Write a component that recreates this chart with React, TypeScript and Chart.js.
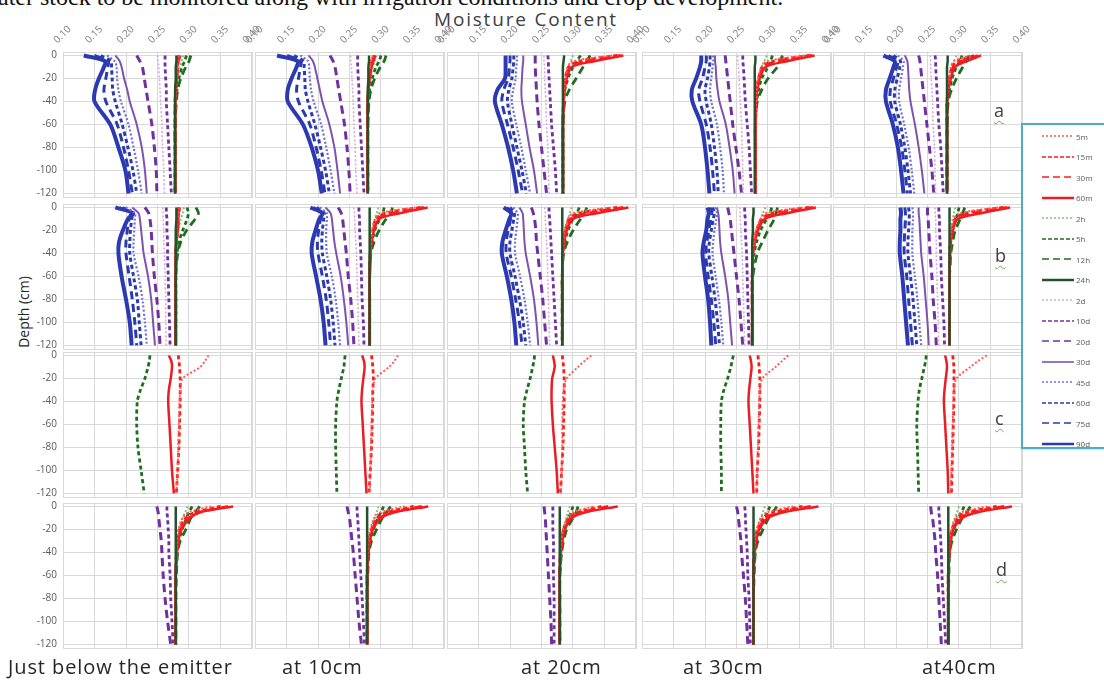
import React, { useEffect, useRef } from "react";
import { Chart, registerables } from "chart.js";
Chart.register(...registerables);

// ---------- data ----------
const DEPTHS = [0, -5, -10, -20, -30, -40, -60, -80, -100, -120];
const SERIES = ["5m", "15m", "30m", "60m", "2h", "5h", "12h", "24h", "2d", "10d", "20d", "30d", "45d", "60d", "75d", "90d"];
const X_TICKS = [0.1, 0.15, 0.2, 0.25, 0.3, 0.35, 0.4];
const Y_TICKS = [0, -20, -40, -60, -80, -100, -120];
const ROW_LABELS = ["a", "b", "c", "d"];
const COLUMN_LABELS = ["Just below the emitter", "at 10cm", "at 20cm", "at 30cm", "at40cm"];

// row a
const A1 = [
  [0.284, 0.282, 0.281, 0.280, 0.279, 0.279, 0.278, 0.278, 0.278, 0.278],
  [0.286, 0.283, 0.281, 0.280, 0.279, 0.278, 0.278, 0.278, 0.278, 0.278],
  [0.285, 0.283, 0.282, 0.281, 0.279, 0.278, 0.278, 0.278, 0.278, 0.278],
  [0.283, 0.282, 0.281, 0.281, 0.279, 0.278, 0.278, 0.278, 0.278, 0.278],
  [0.291, 0.288, 0.285, 0.282, 0.280, 0.279, 0.278, 0.278, 0.278, 0.278],
  [0.296, 0.293, 0.289, 0.284, 0.281, 0.279, 0.278, 0.278, 0.278, 0.278],
  [0.303, 0.300, 0.295, 0.287, 0.282, 0.280, 0.278, 0.278, 0.278, 0.278],
  [0.280, 0.280, 0.279, 0.279, 0.278, 0.278, 0.278, 0.278, 0.278, 0.278],
  [0.250, 0.251, 0.252, 0.253, 0.254, 0.255, 0.257, 0.258, 0.260, 0.261],
  [0.262, 0.262, 0.262, 0.263, 0.264, 0.264, 0.266, 0.268, 0.270, 0.272],
  [0.217, 0.222, 0.226, 0.229, 0.232, 0.235, 0.241, 0.245, 0.248, 0.249],
  [0.183, 0.190, 0.193, 0.197, 0.202, 0.206, 0.217, 0.225, 0.230, 0.233],
  [0.170, 0.182, 0.185, 0.186, 0.188, 0.192, 0.204, 0.212, 0.219, 0.225],
  [0.160, 0.176, 0.177, 0.178, 0.179, 0.183, 0.194, 0.203, 0.211, 0.217],
  [0.150, 0.172, 0.171, 0.168, 0.165, 0.168, 0.186, 0.196, 0.204, 0.210],
  [0.133, 0.167, 0.165, 0.157, 0.151, 0.150, 0.175, 0.188, 0.199, 0.204],
];
const A2 = [
  [0.287, 0.284, 0.282, 0.280, 0.279, 0.279, 0.279, 0.279, 0.279, 0.279],
  [0.289, 0.285, 0.283, 0.281, 0.280, 0.279, 0.279, 0.279, 0.279, 0.279],
  [0.290, 0.287, 0.284, 0.282, 0.280, 0.279, 0.279, 0.279, 0.279, 0.279],
  [0.291, 0.288, 0.285, 0.282, 0.280, 0.279, 0.279, 0.279, 0.279, 0.279],
  [0.293, 0.290, 0.287, 0.283, 0.280, 0.279, 0.279, 0.279, 0.279, 0.279],
  [0.300, 0.297, 0.292, 0.286, 0.282, 0.280, 0.279, 0.279, 0.279, 0.279],
  [0.308, 0.305, 0.299, 0.290, 0.284, 0.281, 0.279, 0.279, 0.279, 0.279],
  [0.281, 0.281, 0.280, 0.280, 0.279, 0.279, 0.279, 0.279, 0.279, 0.279],
  [0.252, 0.252, 0.253, 0.254, 0.255, 0.256, 0.257, 0.259, 0.260, 0.262],
  [0.263, 0.263, 0.263, 0.264, 0.265, 0.265, 0.267, 0.269, 0.271, 0.273],
  [0.219, 0.224, 0.227, 0.230, 0.233, 0.236, 0.242, 0.246, 0.249, 0.251],
  [0.185, 0.192, 0.195, 0.199, 0.203, 0.207, 0.218, 0.226, 0.231, 0.235],
  [0.172, 0.184, 0.186, 0.187, 0.189, 0.193, 0.205, 0.213, 0.220, 0.226],
  [0.162, 0.177, 0.178, 0.179, 0.180, 0.184, 0.195, 0.204, 0.212, 0.218],
  [0.151, 0.173, 0.172, 0.169, 0.166, 0.169, 0.187, 0.197, 0.205, 0.211],
  [0.135, 0.168, 0.166, 0.158, 0.152, 0.152, 0.176, 0.190, 0.200, 0.206],
];
const A3 = [
  [0.362, 0.300, 0.292, 0.288, 0.286, 0.285, 0.284, 0.284, 0.284, 0.284],
  [0.370, 0.310, 0.293, 0.288, 0.286, 0.285, 0.284, 0.284, 0.284, 0.284],
  [0.376, 0.322, 0.295, 0.289, 0.286, 0.285, 0.284, 0.284, 0.284, 0.284],
  [0.380, 0.334, 0.298, 0.290, 0.287, 0.285, 0.284, 0.284, 0.284, 0.284],
  [0.300, 0.296, 0.292, 0.288, 0.285, 0.284, 0.284, 0.284, 0.284, 0.284],
  [0.312, 0.306, 0.300, 0.292, 0.287, 0.285, 0.284, 0.284, 0.284, 0.284],
  [0.327, 0.322, 0.316, 0.305, 0.294, 0.287, 0.284, 0.284, 0.284, 0.284],
  [0.286, 0.285, 0.284, 0.284, 0.284, 0.284, 0.284, 0.284, 0.284, 0.284],
  [0.254, 0.254, 0.255, 0.255, 0.256, 0.257, 0.258, 0.260, 0.261, 0.262],
  [0.260, 0.261, 0.261, 0.262, 0.263, 0.264, 0.266, 0.269, 0.272, 0.274],
  [0.240, 0.240, 0.240, 0.241, 0.242, 0.243, 0.246, 0.250, 0.254, 0.258],
  [0.221, 0.221, 0.220, 0.219, 0.218, 0.219, 0.225, 0.231, 0.238, 0.243],
  [0.211, 0.211, 0.210, 0.209, 0.205, 0.203, 0.210, 0.218, 0.225, 0.232],
  [0.206, 0.206, 0.205, 0.203, 0.198, 0.196, 0.203, 0.211, 0.219, 0.226],
  [0.200, 0.200, 0.199, 0.197, 0.190, 0.187, 0.196, 0.205, 0.213, 0.220],
  [0.193, 0.193, 0.193, 0.192, 0.180, 0.176, 0.187, 0.197, 0.205, 0.211],
];
const A4 = [
  [0.358, 0.298, 0.290, 0.284, 0.282, 0.281, 0.280, 0.280, 0.280, 0.280],
  [0.366, 0.308, 0.291, 0.285, 0.282, 0.281, 0.280, 0.280, 0.280, 0.280],
  [0.370, 0.318, 0.293, 0.286, 0.283, 0.281, 0.280, 0.280, 0.280, 0.280],
  [0.374, 0.330, 0.296, 0.287, 0.283, 0.281, 0.280, 0.280, 0.280, 0.280],
  [0.298, 0.294, 0.290, 0.285, 0.282, 0.281, 0.280, 0.280, 0.280, 0.280],
  [0.307, 0.304, 0.300, 0.290, 0.285, 0.282, 0.280, 0.280, 0.280, 0.280],
  [0.323, 0.319, 0.315, 0.300, 0.290, 0.283, 0.280, 0.280, 0.280, 0.280],
  [0.280, 0.280, 0.279, 0.279, 0.279, 0.279, 0.279, 0.279, 0.279, 0.279],
  [0.252, 0.252, 0.253, 0.254, 0.255, 0.256, 0.258, 0.259, 0.260, 0.261],
  [0.260, 0.260, 0.261, 0.262, 0.263, 0.264, 0.267, 0.270, 0.272, 0.274],
  [0.232, 0.233, 0.234, 0.236, 0.238, 0.240, 0.244, 0.249, 0.254, 0.258],
  [0.216, 0.216, 0.217, 0.218, 0.220, 0.223, 0.233, 0.239, 0.244, 0.247],
  [0.213, 0.213, 0.212, 0.210, 0.208, 0.210, 0.219, 0.224, 0.228, 0.230],
  [0.208, 0.208, 0.207, 0.204, 0.200, 0.202, 0.210, 0.215, 0.219, 0.221],
  [0.202, 0.202, 0.200, 0.196, 0.190, 0.192, 0.202, 0.208, 0.212, 0.215],
  [0.194, 0.194, 0.192, 0.186, 0.179, 0.180, 0.194, 0.200, 0.204, 0.207],
];
const A5 = [
  [0.318, 0.292, 0.287, 0.284, 0.282, 0.281, 0.281, 0.281, 0.281, 0.281],
  [0.324, 0.298, 0.289, 0.285, 0.283, 0.281, 0.281, 0.281, 0.281, 0.281],
  [0.330, 0.305, 0.291, 0.286, 0.283, 0.281, 0.281, 0.281, 0.281, 0.281],
  [0.335, 0.312, 0.294, 0.287, 0.283, 0.281, 0.281, 0.281, 0.281, 0.281],
  [0.296, 0.292, 0.289, 0.285, 0.283, 0.281, 0.281, 0.281, 0.281, 0.281],
  [0.305, 0.301, 0.296, 0.289, 0.285, 0.282, 0.281, 0.281, 0.281, 0.281],
  [0.316, 0.312, 0.306, 0.296, 0.288, 0.283, 0.281, 0.281, 0.281, 0.281],
  [0.282, 0.282, 0.281, 0.281, 0.281, 0.281, 0.281, 0.281, 0.281, 0.281],
  [0.254, 0.255, 0.255, 0.256, 0.257, 0.258, 0.259, 0.261, 0.262, 0.263],
  [0.262, 0.263, 0.263, 0.264, 0.265, 0.266, 0.268, 0.271, 0.273, 0.275],
  [0.236, 0.238, 0.239, 0.241, 0.243, 0.245, 0.249, 0.253, 0.257, 0.260],
  [0.214, 0.218, 0.219, 0.220, 0.221, 0.223, 0.230, 0.236, 0.241, 0.245],
  [0.203, 0.212, 0.211, 0.208, 0.205, 0.205, 0.213, 0.220, 0.225, 0.229],
  [0.196, 0.207, 0.206, 0.202, 0.198, 0.198, 0.207, 0.214, 0.219, 0.223],
  [0.188, 0.203, 0.201, 0.196, 0.191, 0.191, 0.201, 0.209, 0.214, 0.218],
  [0.180, 0.198, 0.196, 0.190, 0.184, 0.184, 0.195, 0.203, 0.208, 0.212],
];

// row b
const B1 = [
  [0.284, 0.283, 0.282, 0.280, 0.279, 0.279, 0.279, 0.279, 0.279, 0.279],
  [0.285, 0.284, 0.282, 0.281, 0.280, 0.279, 0.279, 0.279, 0.279, 0.279],
  [0.284, 0.283, 0.283, 0.282, 0.280, 0.279, 0.279, 0.279, 0.279, 0.279],
  [0.283, 0.283, 0.283, 0.282, 0.280, 0.279, 0.279, 0.279, 0.279, 0.279],
  [0.292, 0.290, 0.287, 0.283, 0.281, 0.280, 0.279, 0.279, 0.279, 0.279],
  [0.297, 0.299, 0.297, 0.290, 0.284, 0.281, 0.279, 0.279, 0.279, 0.279],
  [0.311, 0.315, 0.310, 0.296, 0.287, 0.282, 0.279, 0.279, 0.279, 0.279],
  [0.280, 0.280, 0.280, 0.279, 0.279, 0.279, 0.279, 0.279, 0.279, 0.279],
  [0.258, 0.259, 0.259, 0.260, 0.260, 0.261, 0.262, 0.263, 0.263, 0.264],
  [0.264, 0.264, 0.265, 0.265, 0.266, 0.266, 0.267, 0.268, 0.269, 0.270],
  [0.230, 0.236, 0.238, 0.240, 0.241, 0.242, 0.245, 0.249, 0.252, 0.254],
  [0.210, 0.220, 0.222, 0.224, 0.226, 0.228, 0.235, 0.240, 0.243, 0.246],
  [0.200, 0.214, 0.214, 0.213, 0.212, 0.212, 0.220, 0.226, 0.230, 0.233],
  [0.195, 0.210, 0.209, 0.207, 0.206, 0.206, 0.212, 0.218, 0.221, 0.224],
  [0.190, 0.207, 0.205, 0.202, 0.200, 0.200, 0.205, 0.210, 0.214, 0.217],
  [0.183, 0.211, 0.203, 0.195, 0.189, 0.188, 0.193, 0.200, 0.206, 0.209],
];
const B2 = [
  [0.355, 0.298, 0.291, 0.286, 0.284, 0.283, 0.282, 0.282, 0.282, 0.282],
  [0.362, 0.306, 0.292, 0.287, 0.284, 0.283, 0.282, 0.282, 0.282, 0.282],
  [0.368, 0.318, 0.294, 0.288, 0.285, 0.283, 0.282, 0.282, 0.282, 0.282],
  [0.374, 0.330, 0.297, 0.289, 0.285, 0.283, 0.282, 0.282, 0.282, 0.282],
  [0.296, 0.293, 0.290, 0.286, 0.284, 0.283, 0.282, 0.282, 0.282, 0.282],
  [0.305, 0.303, 0.298, 0.290, 0.286, 0.283, 0.282, 0.282, 0.282, 0.282],
  [0.318, 0.316, 0.308, 0.297, 0.289, 0.284, 0.282, 0.282, 0.282, 0.282],
  [0.282, 0.282, 0.282, 0.282, 0.282, 0.282, 0.282, 0.282, 0.282, 0.282],
  [0.257, 0.258, 0.258, 0.259, 0.260, 0.261, 0.262, 0.263, 0.264, 0.265],
  [0.265, 0.265, 0.266, 0.266, 0.267, 0.268, 0.269, 0.270, 0.272, 0.273],
  [0.232, 0.237, 0.239, 0.241, 0.243, 0.245, 0.248, 0.252, 0.255, 0.257],
  [0.212, 0.220, 0.222, 0.224, 0.226, 0.229, 0.236, 0.241, 0.245, 0.248],
  [0.203, 0.214, 0.214, 0.213, 0.213, 0.214, 0.222, 0.228, 0.232, 0.235],
  [0.198, 0.210, 0.209, 0.207, 0.206, 0.207, 0.214, 0.220, 0.224, 0.227],
  [0.193, 0.206, 0.204, 0.201, 0.199, 0.200, 0.207, 0.213, 0.217, 0.220],
  [0.188, 0.207, 0.202, 0.196, 0.191, 0.190, 0.197, 0.204, 0.209, 0.212],
];
const B3 = [
  [0.360, 0.300, 0.292, 0.287, 0.285, 0.284, 0.283, 0.283, 0.283, 0.283],
  [0.370, 0.310, 0.294, 0.288, 0.285, 0.284, 0.283, 0.283, 0.283, 0.283],
  [0.380, 0.325, 0.296, 0.289, 0.286, 0.284, 0.283, 0.283, 0.283, 0.283],
  [0.388, 0.338, 0.300, 0.290, 0.286, 0.284, 0.283, 0.283, 0.283, 0.283],
  [0.298, 0.295, 0.292, 0.287, 0.285, 0.284, 0.283, 0.283, 0.283, 0.283],
  [0.310, 0.306, 0.300, 0.292, 0.287, 0.284, 0.283, 0.283, 0.283, 0.283],
  [0.322, 0.318, 0.312, 0.300, 0.291, 0.285, 0.283, 0.283, 0.283, 0.283],
  [0.283, 0.283, 0.283, 0.283, 0.283, 0.283, 0.283, 0.283, 0.283, 0.283],
  [0.255, 0.256, 0.256, 0.257, 0.258, 0.259, 0.260, 0.261, 0.262, 0.263],
  [0.262, 0.262, 0.263, 0.264, 0.265, 0.266, 0.268, 0.270, 0.272, 0.274],
  [0.234, 0.237, 0.239, 0.241, 0.242, 0.244, 0.248, 0.252, 0.255, 0.258],
  [0.215, 0.220, 0.221, 0.222, 0.223, 0.225, 0.232, 0.238, 0.242, 0.245],
  [0.205, 0.212, 0.212, 0.210, 0.208, 0.208, 0.216, 0.223, 0.228, 0.232],
  [0.200, 0.207, 0.206, 0.203, 0.200, 0.200, 0.208, 0.215, 0.221, 0.225],
  [0.195, 0.203, 0.201, 0.197, 0.194, 0.194, 0.202, 0.209, 0.215, 0.219],
  [0.190, 0.202, 0.199, 0.193, 0.188, 0.187, 0.195, 0.202, 0.207, 0.210],
];
const B4 = [
  [0.355, 0.296, 0.288, 0.281, 0.278, 0.276, 0.275, 0.275, 0.275, 0.275],
  [0.365, 0.306, 0.290, 0.282, 0.278, 0.276, 0.275, 0.275, 0.275, 0.275],
  [0.371, 0.318, 0.292, 0.283, 0.279, 0.276, 0.275, 0.275, 0.275, 0.275],
  [0.376, 0.330, 0.295, 0.284, 0.279, 0.276, 0.275, 0.275, 0.275, 0.275],
  [0.296, 0.292, 0.288, 0.283, 0.279, 0.277, 0.275, 0.275, 0.275, 0.275],
  [0.306, 0.303, 0.298, 0.288, 0.282, 0.278, 0.275, 0.275, 0.275, 0.275],
  [0.315, 0.313, 0.310, 0.300, 0.291, 0.283, 0.276, 0.275, 0.275, 0.275],
  [0.277, 0.277, 0.276, 0.276, 0.275, 0.275, 0.275, 0.275, 0.275, 0.275],
  [0.255, 0.256, 0.256, 0.257, 0.258, 0.259, 0.260, 0.261, 0.262, 0.263],
  [0.263, 0.263, 0.264, 0.264, 0.265, 0.266, 0.267, 0.268, 0.269, 0.270],
  [0.236, 0.238, 0.240, 0.242, 0.244, 0.246, 0.250, 0.254, 0.257, 0.260],
  [0.219, 0.221, 0.222, 0.223, 0.224, 0.226, 0.232, 0.237, 0.240, 0.243],
  [0.216, 0.219, 0.218, 0.215, 0.213, 0.212, 0.217, 0.222, 0.226, 0.229],
  [0.212, 0.215, 0.213, 0.210, 0.207, 0.206, 0.211, 0.216, 0.220, 0.223],
  [0.208, 0.211, 0.209, 0.206, 0.203, 0.201, 0.205, 0.210, 0.214, 0.217],
  [0.204, 0.206, 0.204, 0.202, 0.198, 0.196, 0.200, 0.205, 0.208, 0.210],
];
const B5 = [
  [0.362, 0.300, 0.292, 0.288, 0.286, 0.285, 0.285, 0.285, 0.285, 0.285],
  [0.370, 0.310, 0.294, 0.289, 0.286, 0.285, 0.285, 0.285, 0.285, 0.285],
  [0.376, 0.322, 0.296, 0.289, 0.287, 0.286, 0.285, 0.285, 0.285, 0.285],
  [0.381, 0.335, 0.298, 0.290, 0.287, 0.286, 0.285, 0.285, 0.285, 0.285],
  [0.294, 0.292, 0.290, 0.287, 0.286, 0.285, 0.285, 0.285, 0.285, 0.285],
  [0.300, 0.298, 0.295, 0.290, 0.287, 0.286, 0.285, 0.285, 0.285, 0.285],
  [0.309, 0.306, 0.302, 0.294, 0.290, 0.287, 0.285, 0.285, 0.285, 0.285],
  [0.285, 0.285, 0.285, 0.285, 0.285, 0.285, 0.285, 0.285, 0.285, 0.285],
  [0.262, 0.262, 0.263, 0.263, 0.264, 0.264, 0.265, 0.266, 0.267, 0.268],
  [0.268, 0.268, 0.269, 0.269, 0.270, 0.271, 0.272, 0.274, 0.276, 0.277],
  [0.250, 0.250, 0.251, 0.252, 0.253, 0.254, 0.257, 0.259, 0.262, 0.264],
  [0.236, 0.236, 0.237, 0.238, 0.239, 0.240, 0.244, 0.247, 0.250, 0.252],
  [0.226, 0.227, 0.227, 0.226, 0.226, 0.226, 0.230, 0.234, 0.237, 0.240],
  [0.220, 0.221, 0.221, 0.220, 0.219, 0.219, 0.223, 0.227, 0.230, 0.233],
  [0.214, 0.215, 0.215, 0.214, 0.213, 0.213, 0.217, 0.220, 0.223, 0.226],
  [0.207, 0.208, 0.207, 0.207, 0.206, 0.206, 0.210, 0.213, 0.216, 0.219],
];

// row c (only 5m, 15m, 60m and 5h were plotted)
const C1 = [
  [0.331, 0.325, 0.318, 0.290, 0.286, 0.285, 0.284, 0.283, 0.282, 0.280],
  [0.283, 0.284, 0.285, 0.286, 0.286, 0.286, 0.285, 0.284, 0.282, 0.280],
  null,
  [0.268, 0.272, 0.273, 0.271, 0.268, 0.267, 0.269, 0.271, 0.273, 0.276],
  null,
  [0.238, 0.237, 0.235, 0.230, 0.223, 0.218, 0.217, 0.219, 0.224, 0.229],
  null, null, null, null, null, null, null, null, null, null,
];
const C2 = [
  [0.327, 0.321, 0.313, 0.291, 0.287, 0.286, 0.285, 0.284, 0.283, 0.282],
  [0.285, 0.286, 0.287, 0.288, 0.287, 0.287, 0.286, 0.285, 0.283, 0.281],
  null,
  [0.270, 0.273, 0.274, 0.272, 0.270, 0.269, 0.271, 0.273, 0.275, 0.277],
  null,
  [0.243, 0.242, 0.241, 0.237, 0.233, 0.230, 0.228, 0.228, 0.229, 0.230],
  null, null, null, null, null, null, null, null, null, null,
];
const C3 = [
  [0.329, 0.318, 0.308, 0.290, 0.285, 0.284, 0.283, 0.283, 0.282, 0.281],
  [0.283, 0.284, 0.285, 0.286, 0.286, 0.286, 0.285, 0.284, 0.282, 0.280],
  null,
  [0.268, 0.270, 0.271, 0.267, 0.266, 0.266, 0.268, 0.271, 0.274, 0.276],
  null,
  [0.239, 0.238, 0.236, 0.232, 0.227, 0.223, 0.221, 0.223, 0.225, 0.228],
  null, null, null, null, null, null, null, null, null, null,
];
const C4 = [
  [0.332, 0.322, 0.312, 0.291, 0.287, 0.286, 0.285, 0.284, 0.283, 0.282],
  [0.284, 0.285, 0.286, 0.287, 0.287, 0.287, 0.286, 0.285, 0.283, 0.282],
  null,
  [0.271, 0.273, 0.274, 0.272, 0.270, 0.269, 0.271, 0.273, 0.275, 0.277],
  null,
  [0.245, 0.243, 0.241, 0.236, 0.230, 0.226, 0.225, 0.225, 0.226, 0.226],
  null, null, null, null, null, null, null, null, null, null,
];
const C5 = [
  [0.344, 0.330, 0.318, 0.296, 0.292, 0.291, 0.290, 0.289, 0.288, 0.287],
  [0.290, 0.291, 0.292, 0.292, 0.292, 0.292, 0.291, 0.290, 0.289, 0.288],
  null,
  [0.278, 0.280, 0.281, 0.279, 0.277, 0.276, 0.278, 0.280, 0.282, 0.283],
  null,
  [0.248, 0.247, 0.245, 0.241, 0.237, 0.235, 0.233, 0.234, 0.235, 0.236],
  null, null, null, null, null, null, null, null, null, null,
];

// row d (no 2d, 30d, 45d, 60d, 75d, 90d)
const D1 = [
  [0.335, 0.300, 0.290, 0.283, 0.281, 0.280, 0.279, 0.279, 0.279, 0.279],
  [0.350, 0.310, 0.295, 0.285, 0.282, 0.280, 0.279, 0.279, 0.279, 0.279],
  [0.362, 0.318, 0.300, 0.287, 0.283, 0.281, 0.279, 0.279, 0.279, 0.279],
  [0.370, 0.317, 0.302, 0.288, 0.283, 0.281, 0.279, 0.279, 0.279, 0.279],
  [0.298, 0.294, 0.290, 0.285, 0.282, 0.280, 0.279, 0.279, 0.279, 0.279],
  [0.305, 0.300, 0.296, 0.289, 0.284, 0.281, 0.279, 0.279, 0.279, 0.279],
  [0.317, 0.310, 0.303, 0.295, 0.286, 0.282, 0.280, 0.279, 0.279, 0.279],
  [0.279, 0.279, 0.279, 0.279, 0.279, 0.279, 0.279, 0.279, 0.279, 0.279],
  null,
  [0.265, 0.265, 0.266, 0.267, 0.268, 0.268, 0.270, 0.271, 0.273, 0.275],
  [0.249, 0.251, 0.252, 0.254, 0.256, 0.257, 0.259, 0.262, 0.266, 0.271],
  null, null, null, null, null,
];
const D2 = [
  [0.338, 0.300, 0.290, 0.283, 0.280, 0.279, 0.278, 0.278, 0.278, 0.278],
  [0.352, 0.310, 0.294, 0.285, 0.281, 0.279, 0.278, 0.278, 0.278, 0.278],
  [0.365, 0.318, 0.299, 0.286, 0.282, 0.280, 0.278, 0.278, 0.278, 0.278],
  [0.375, 0.322, 0.300, 0.287, 0.282, 0.280, 0.278, 0.278, 0.278, 0.278],
  [0.296, 0.293, 0.289, 0.284, 0.281, 0.279, 0.278, 0.278, 0.278, 0.278],
  [0.304, 0.300, 0.295, 0.288, 0.283, 0.280, 0.278, 0.278, 0.278, 0.278],
  [0.315, 0.309, 0.302, 0.293, 0.285, 0.281, 0.279, 0.278, 0.278, 0.278],
  [0.278, 0.278, 0.278, 0.278, 0.278, 0.278, 0.278, 0.278, 0.278, 0.278],
  null,
  [0.262, 0.262, 0.263, 0.264, 0.265, 0.266, 0.268, 0.270, 0.272, 0.274],
  [0.246, 0.248, 0.250, 0.252, 0.254, 0.256, 0.259, 0.262, 0.265, 0.269],
  null, null, null, null, null,
];
const D3 = [
  [0.332, 0.300, 0.291, 0.284, 0.281, 0.280, 0.279, 0.279, 0.279, 0.279],
  [0.345, 0.308, 0.294, 0.285, 0.282, 0.280, 0.279, 0.279, 0.279, 0.279],
  [0.356, 0.315, 0.296, 0.286, 0.282, 0.280, 0.279, 0.279, 0.279, 0.279],
  [0.371, 0.320, 0.298, 0.287, 0.283, 0.281, 0.279, 0.279, 0.279, 0.279],
  [0.295, 0.292, 0.289, 0.284, 0.281, 0.280, 0.279, 0.279, 0.279, 0.279],
  [0.300, 0.297, 0.293, 0.287, 0.283, 0.281, 0.279, 0.279, 0.279, 0.279],
  [0.308, 0.305, 0.300, 0.290, 0.285, 0.282, 0.279, 0.279, 0.279, 0.279],
  [0.279, 0.279, 0.279, 0.279, 0.279, 0.279, 0.279, 0.279, 0.279, 0.279],
  null,
  [0.268, 0.268, 0.268, 0.268, 0.269, 0.269, 0.269, 0.270, 0.270, 0.270],
  [0.254, 0.255, 0.256, 0.257, 0.258, 0.259, 0.261, 0.263, 0.265, 0.266],
  null, null, null, null, null,
];
const D4 = [
  [0.340, 0.299, 0.289, 0.282, 0.279, 0.278, 0.277, 0.277, 0.277, 0.277],
  [0.355, 0.309, 0.293, 0.283, 0.280, 0.278, 0.277, 0.277, 0.277, 0.277],
  [0.368, 0.318, 0.297, 0.285, 0.281, 0.278, 0.277, 0.277, 0.277, 0.277],
  [0.380, 0.325, 0.300, 0.286, 0.281, 0.279, 0.277, 0.277, 0.277, 0.277],
  [0.295, 0.292, 0.288, 0.283, 0.280, 0.278, 0.277, 0.277, 0.277, 0.277],
  [0.303, 0.299, 0.294, 0.287, 0.282, 0.279, 0.277, 0.277, 0.277, 0.277],
  [0.314, 0.308, 0.301, 0.292, 0.284, 0.280, 0.278, 0.277, 0.277, 0.277],
  [0.277, 0.277, 0.277, 0.277, 0.277, 0.277, 0.277, 0.277, 0.277, 0.277],
  null,
  [0.263, 0.264, 0.264, 0.265, 0.266, 0.267, 0.268, 0.270, 0.271, 0.272],
  [0.250, 0.252, 0.253, 0.255, 0.257, 0.258, 0.261, 0.264, 0.266, 0.268],
  null, null, null, null, null,
];
const D5 = [
  [0.345, 0.304, 0.295, 0.288, 0.285, 0.284, 0.283, 0.283, 0.283, 0.283],
  [0.360, 0.314, 0.298, 0.289, 0.286, 0.284, 0.283, 0.283, 0.283, 0.283],
  [0.372, 0.322, 0.302, 0.290, 0.286, 0.284, 0.283, 0.283, 0.283, 0.283],
  [0.384, 0.330, 0.305, 0.291, 0.287, 0.285, 0.283, 0.283, 0.283, 0.283],
  [0.300, 0.297, 0.293, 0.288, 0.285, 0.284, 0.283, 0.283, 0.283, 0.283],
  [0.308, 0.304, 0.299, 0.291, 0.287, 0.285, 0.283, 0.283, 0.283, 0.283],
  [0.318, 0.312, 0.305, 0.296, 0.289, 0.285, 0.284, 0.283, 0.283, 0.283],
  [0.283, 0.283, 0.283, 0.283, 0.283, 0.283, 0.283, 0.283, 0.283, 0.283],
  null,
  [0.268, 0.268, 0.269, 0.270, 0.271, 0.272, 0.273, 0.275, 0.277, 0.279],
  [0.255, 0.256, 0.258, 0.260, 0.262, 0.263, 0.266, 0.268, 0.270, 0.272],
  null, null, null, null, null,
];

const PANELS = [
  [A1, A2, A3, A4, A5],
  [B1, B2, B3, B4, B5],
  [C1, C2, C3, C4, C5],
  [D1, D2, D3, D4, D5],
];

// ---------- styles / layout ----------
const SERIES_COLOR = ["#ff5a5a", "#ff1a1a", "#ff1a1a", "#ea1c24", "#80c080", "#1f6e1f", "#1f6e1f", "#24502a", "#d2acd8", "#7030a0", "#7030a0", "#8052b0", "#7070d8", "#2b3ab3", "#2b3ab3", "#2b3ab3"];
const SERIES_DASH = [[2, 2], [4, 3], [8, 5], [], [2, 2], [4, 3], [8, 5], [], [2, 2], [4, 3], [8, 5], [], [2, 2], [4, 3], [8, 5], []];
const SERIES_WIDTH = [2, 2.8, 2.8, 2.5, 2, 2.8, 2.8, 2.5, 1.6, 2.8, 3, 2, 2.2, 3, 3, 4];
const LEGEND_DASH = ["2 2", "4 2", "7 4", "", "2 2", "4 2", "7 4", "", "2 2", "4 2", "7 4", "", "2 2", "4 2", "7 4", ""];

const COL_LEFT = [63, 255, 447, 642, 833];
const ROW_ZERO = [55, 207, 355, 506];
const PLOT_W = 189;
const Y_MAX = 3;
const Y_MIN = -124;
const PX_PER_CM = 1.15;
const GRID = "#d9d9d9";
const FONT = "'Open Sans', 'DejaVu Sans', sans-serif";

const framePlugin = {
  id: "frame",
  beforeDatasetsDraw(chart: any) {
    const { ctx, chartArea } = chart;
    ctx.save();
    ctx.strokeStyle = GRID;
    ctx.lineWidth = 1;
    ctx.strokeRect(Math.round(chartArea.left) + 0.5, Math.round(chartArea.top) + 0.5, Math.round(chartArea.right - chartArea.left) - 1, Math.round(chartArea.bottom - chartArea.top) - 1);
    ctx.restore();
  },
};

function zeroPadding(s: any) {
  s.paddingLeft = 0;
  s.paddingRight = 0;
  s.paddingTop = 0;
  s.paddingBottom = 0;
}

function Panel({ row, col }: { row: number; col: number }) {
  const ref = useRef<HTMLCanvasElement | null>(null);
  const padL = col === 0 ? 56 : 12;
  const padT = row === 0 ? 46 : 10;
  const padR = row === 0 ? 18 : 1;
  const padB = 8;
  const plotH = Math.round((Y_MAX - Y_MIN) * PX_PER_CM);
  const areaTop = Math.round(ROW_ZERO[row] - Y_MAX * PX_PER_CM);
  const w = padL + PLOT_W + padR;
  const h = padT + plotH + padB;

  useEffect(() => {
    const panel = PANELS[row][col];
    const datasets: any[] = [];
    SERIES.forEach((name, i) => {
      const vals = panel[i];
      if (!vals) return;
      datasets.push({
        label: name,
        data: DEPTHS.map((d, k) => ({ x: vals[k], y: d })),
        showLine: true,
        borderColor: SERIES_COLOR[i],
        backgroundColor: SERIES_COLOR[i],
        borderWidth: SERIES_WIDTH[i],
        borderDash: SERIES_DASH[i],
        pointRadius: 0,
        tension: 0.3,
        fill: false,
        order: name === "24h" ? 0 : i + 1,
      });
    });
    const chart = new Chart(ref.current as HTMLCanvasElement, {
      type: "scatter",
      data: { datasets },
      options: {
        animation: false,
        responsive: false,
        maintainAspectRatio: false,
        events: [],
        layout: { padding: { left: 0, top: 0, right: padR, bottom: padB } },
        plugins: { legend: { display: false }, tooltip: { enabled: false } },
        scales: {
          x: {
            type: "linear",
            position: "top",
            min: 0.1,
            max: 0.4,
            afterBuildTicks: (s: any) => {
              s.ticks = X_TICKS.map((v) => ({ value: v }));
            },
            afterFit: (s: any) => {
              s.height = padT;
              zeroPadding(s);
            },
            grid: { color: GRID, drawTicks: false },
            border: { display: false },
            ticks: {
              display: row === 0,
              minRotation: 45,
              maxRotation: 45,
              autoSkip: false,
              padding: 6,
              labelOffset: 1,
              color: "#808080",
              font: { size: 10, family: FONT },
              callback: (v: any) => Number(v).toFixed(2),
            },
          },
          y: {
            type: "linear",
            min: Y_MIN,
            max: Y_MAX,
            afterBuildTicks: (s: any) => {
              s.ticks = Y_TICKS.map((v) => ({ value: v }));
            },
            afterFit: (s: any) => {
              s.width = padL;
              zeroPadding(s);
            },
            grid: { color: GRID, drawTicks: false },
            border: { display: false },
            ticks: {
              display: col === 0,
              padding: 6,
              color: "#595959",
              font: { size: 10, family: FONT },
            },
          },
        },
      },
      plugins: [framePlugin],
    } as any);
    return () => chart.destroy();
  }, [row, col]);

  return (
    <canvas
      ref={ref}
      width={w}
      height={h}
      style={{ position: "absolute", left: COL_LEFT[col] - padL, top: areaTop - padT, width: w, height: h }}
    />
  );
}

const LEGEND_TOP = 123;
const LABEL_POS = [
  [1000, 111],
  [1001, 256],
  [1001, 419],
  [1002, 570],
];
const COLUMN_LABEL_LEFT = [8, 282, 521, 683, 922];

export default function App() {
  const cells: any[] = [];
  for (let r = 0; r < 4; r++) for (let c = 0; c < 5; c++) cells.push(<Panel key={`${r}-${c}`} row={r} col={c} />);
  return (
    <div style={{ position: "fixed", left: 0, top: 0, width: 1104, height: 683, overflow: "hidden", background: "#fff", fontFamily: FONT }}>
      <div style={{ position: "absolute", left: -2, top: -15, fontFamily: "'Liberation Serif', serif", fontSize: 24, lineHeight: "24px", whiteSpace: "nowrap", color: "#111" }}>
        ater stock to be monitored along with irrigation conditions and crop development.
      </div>
      <div style={{ position: "absolute", left: 406, top: 7, width: 240, textAlign: "center", fontSize: 19, lineHeight: "24px", color: "#404040", letterSpacing: 1.8 }}>
        Moisture Content
      </div>
      <div style={{ position: "absolute", left: 23, top: 312, transform: "translate(-50%, -50%) rotate(-90deg)", whiteSpace: "nowrap", fontSize: 14, color: "#262626" }}>
        Depth (cm)
      </div>
      {cells}
      {ROW_LABELS.map((l, i) => (
        <div key={l} style={{ position: "absolute", left: LABEL_POS[i][0] - 6, top: LABEL_POS[i][1] - 13, fontSize: 18, lineHeight: "24px", color: "#404040", textDecoration: "underline wavy #6aa84f", textDecorationThickness: 1, textUnderlineOffset: 3 }}>
          {l}
        </div>
      ))}
      <div style={{ position: "absolute", left: 1021, top: LEGEND_TOP, width: 110, height: 326, border: "2px solid #4bacc6", boxSizing: "border-box", background: "#fff", boxShadow: "1px 1px 2px rgba(0,0,0,0.15)" }}>
        {SERIES.map((s, i) => (
          <div key={s} style={{ position: "absolute", left: 19, top: 4 + i * 20.5, height: 14, display: "flex", alignItems: "center" }}>
            <svg width={32} height={4} style={{ display: "block" }}>
              <line x1={0} y1={2} x2={32} y2={2} stroke={SERIES_COLOR[i]} strokeWidth={i === 15 || i === 3 || i === 7 ? 2.5 : 1.6} strokeDasharray={LEGEND_DASH[i]} />
            </svg>
            <span style={{ marginLeft: 2, fontSize: 8, color: "#595959" }}>{s}</span>
          </div>
        ))}
      </div>
      {COLUMN_LABELS.map((t, i) => (
        <div key={t} style={{ position: "absolute", left: COLUMN_LABEL_LEFT[i], top: 654, fontSize: 20, lineHeight: "26px", color: "#262626", whiteSpace: "nowrap", letterSpacing: 0.9 }}>
          {t}
        </div>
      ))}
    </div>
  );
}
